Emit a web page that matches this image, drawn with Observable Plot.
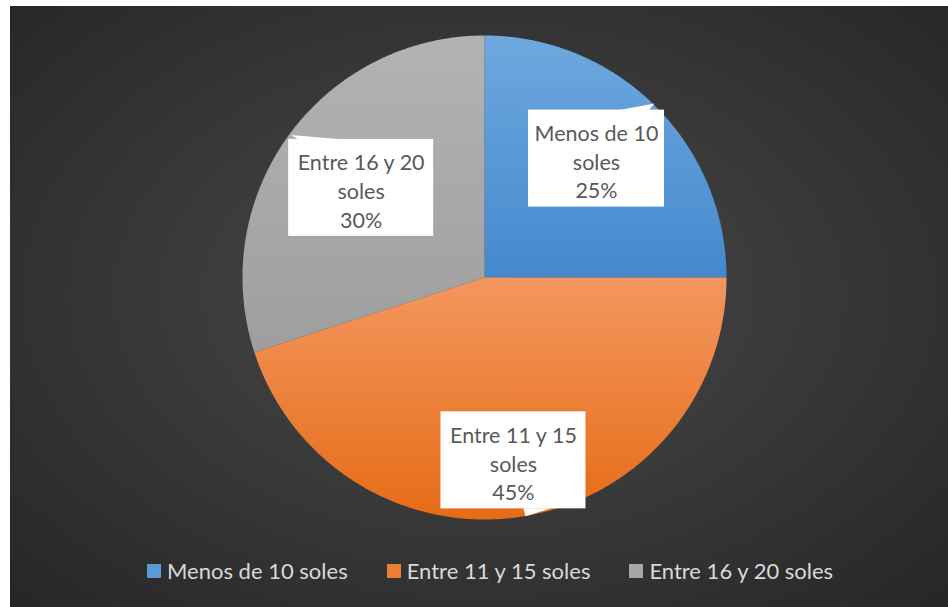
<!DOCTYPE html>
<html>
<head>
<meta charset="utf-8">
<script src="https://cdn.jsdelivr.net/npm/d3@7"></script>
<script src="https://cdn.jsdelivr.net/npm/@observablehq/plot@0.6"></script>
<style>
  html, body { margin: 0; padding: 0; background: #ffffff; }
  #wrap { position: relative; width: 948px; height: 607px; overflow: hidden; }
  #bg { position: absolute; left: 10px; top: 6px; width: 938px; height: 601px;
        background: radial-gradient(ellipse at 50% 48%, #4c4c4c 0%, #3a3a3a 45%, #262626 100%); }
  #chart { position: absolute; left: 0; top: 0; }
  #legend { position: absolute; left: 147px; top: 557px; display: flex; align-items: center;
            font-family: Lato, "Open Sans", sans-serif; font-size: 22px; color: #d9d9d9; white-space: nowrap; }
  .item { display: flex; align-items: center; margin-right: 39px; }
  .sw { width: 14px; height: 14px; margin-right: 6px; }
</style>
</head>
<body>
<svg width="0" height="0" style="position:absolute">
  <defs>
    <linearGradient id="g0" x1="0" y1="0" x2="0" y2="1">
      <stop offset="0" stop-color="#6ea8df"/><stop offset="1" stop-color="#4489cd"/>
    </linearGradient>
    <linearGradient id="g1" x1="0" y1="0" x2="0" y2="1">
      <stop offset="0" stop-color="#f3975f"/><stop offset="1" stop-color="#e66b16"/>
    </linearGradient>
    <linearGradient id="g2" x1="0" y1="0" x2="0" y2="1">
      <stop offset="0" stop-color="#b3b3b3"/><stop offset="1" stop-color="#9e9e9e"/>
    </linearGradient>
  </defs>
</svg>
<div id="wrap">
  <div id="bg"></div>
  <div id="chart"></div>
  <div id="legend"></div>
</div>
<script>
// ---- data ----
const categories = ["Menos de 10 soles", "Entre 11 y 15 soles", "Entre 16 y 20 soles"];
const labelNames = ["Menos de 10\nsoles", "Entre 11 y 15\nsoles", "Entre 16 y 20\nsoles"];
const percents = [25, 45, 30];
const legendColors = ["#5b9bd5", "#ed7d31", "#a5a5a5"];

// ---- layout / style ----
const fills = ["url(#g0)", "url(#g1)", "url(#g2)"];
const labelRadius = [0.675, 0.765, 0.63];
const labelAngleShift = [-0.03, 0, 0];   // radians
const boxW = [136, 145, 145];   // px
const boxH = 97;                // px
const PX = 1 / 242;             // data units per pixel (radius 242px)
// callout tails relative to box centre, in px (apex last)
const tails = [
  [[20, -48], [52, -48], [58, -55]],
  [[10, 48], [38, 48], [12, 56]],
  [[-12, -48], [-62, -48], [-70, -53]]
];

const total = d3.sum(percents);
let acc = 0;
const slices = percents.map((v, i) => {
  const a0 = acc / total * 2 * Math.PI;
  acc += v;
  const a1 = acc / total * 2 * Math.PI;
  return {i, name: categories[i], value: v, a0, a1};
});

const marks = [];
slices.forEach(s => {
  const pts = [{x: 0, y: 0}];
  const n = Math.max(2, Math.ceil((s.a1 - s.a0) / (Math.PI / 360)));
  for (let k = 0; k <= n; k++) {
    const a = s.a0 + (s.a1 - s.a0) * k / n;
    pts.push({x: Math.sin(a), y: Math.cos(a)});
  }
  pts.push({x: 0, y: 0});
  marks.push(Plot.line(pts, {x: "x", y: "y", fill: fills[s.i], stroke: "none", curve: "linear"}));
});

// labels
const labels = slices.map(s => {
  const m = (s.a0 + s.a1) / 2 + labelAngleShift[s.i];
  const r = labelRadius[s.i];
  return {i: s.i, cx: r * Math.sin(m), cy: r * Math.cos(m),
          text: labelNames[s.i] + "\n" + s.value + "%"};
});
marks.push(Plot.rect(labels, {
  x1: d => d.cx - boxW[d.i] / 2 * PX, x2: d => d.cx + boxW[d.i] / 2 * PX,
  y1: d => d.cy - boxH / 2 * PX, y2: d => d.cy + boxH / 2 * PX,
  fill: "white", inset: 0
}));
labels.forEach(l => {
  const pts = tails[l.i].map(([dx, dy]) => ({x: l.cx + dx * PX, y: l.cy - dy * PX}));
  marks.push(Plot.line(pts, {x: "x", y: "y", fill: "white", stroke: "none"}));
});
marks.push(Plot.text(labels, {
  x: "cx", y: "cy", text: "text", fill: "#595959", fontSize: 21.5,
  lineHeight: 1.33, dy: 2, fontFamily: "Lato, 'Open Sans', sans-serif"
}));

const chart = Plot.plot({
  width: 948, height: 607,
  margin: 0,
  style: {background: "transparent", overflow: "visible"},
  x: {domain: [-1, 1], range: [242, 726], axis: null},
  y: {domain: [-1, 1], range: [519, 35], axis: null},
  marks
});
document.getElementById("chart").appendChild(chart);

// legend
const leg = document.getElementById("legend");
categories.forEach((c, i) => {
  const it = document.createElement("div");
  it.className = "item";
  const sw = document.createElement("div");
  sw.className = "sw";
  sw.style.background = legendColors[i];
  const tx = document.createElement("span");
  tx.textContent = c;
  it.appendChild(sw); it.appendChild(tx);
  leg.appendChild(it);
});
</script>
</body>
</html>
